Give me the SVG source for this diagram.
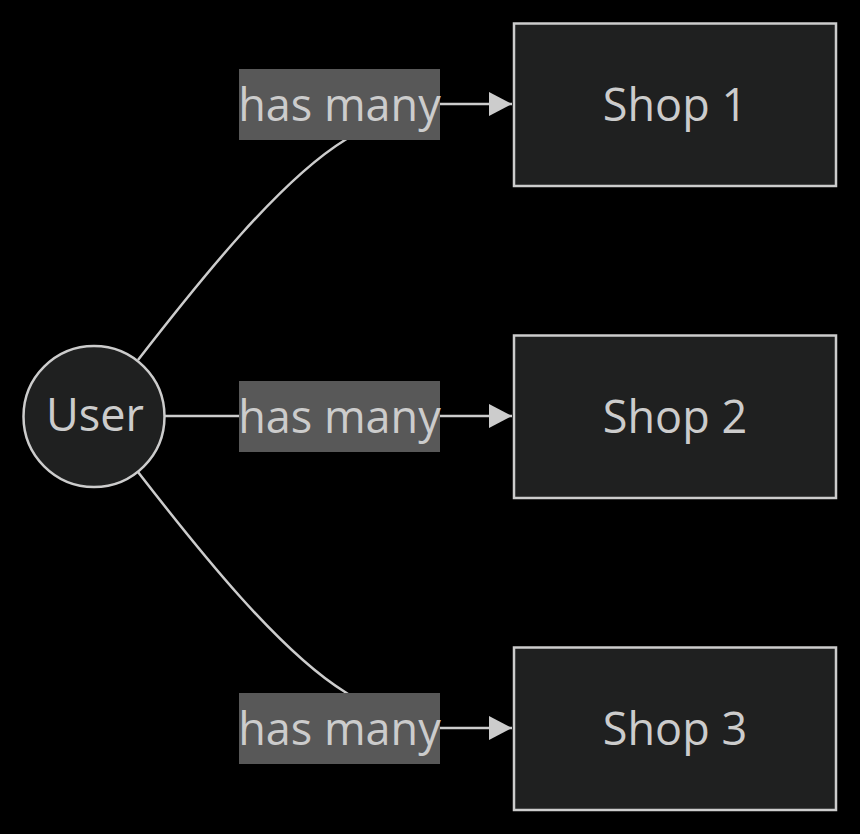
<svg xmlns="http://www.w3.org/2000/svg" width="860" height="834" viewBox="0 0 860 834">
<defs>
<style>
.node{fill:#1f2020;stroke:#cccccc;stroke-width:2.5}
.lbl{fill:#585858}
.t{font-family:"Open Sans","DejaVu Sans",sans-serif;font-size:45px;fill:#cccccc;text-anchor:middle}
.edge{fill:none;stroke:#cccccc;stroke-width:2.5}
</style>
<marker id="arr" markerWidth="24" markerHeight="24" refX="23" refY="12" orient="auto" markerUnits="userSpaceOnUse">
<path d="M0,0 L23,12 L0,24 Z" fill="#cccccc"/>
</marker>
</defs>
<rect width="860" height="834" fill="#000000"/>
<g id="connectors">
<path class="edge" d="M138,360 C200,280 280,180 345,140 C380,115 410,104 440,104 L512,104" marker-end="url(#arr)"/>
<path class="edge" d="M164,416 L512,416" marker-end="url(#arr)"/>
<path class="edge" d="M138,472 C200,552 280,652 345,692 C380,717 410,728 440,728 L512,728" marker-end="url(#arr)"/>
</g>
<g id="label1"><rect class="lbl" x="239" y="69" width="201" height="71"/><text class="t" x="339.5" y="121">has many</text></g>
<g id="label2"><rect class="lbl" x="239" y="381" width="201" height="71"/><text class="t" x="339.5" y="433">has many</text></g>
<g id="label3"><rect class="lbl" x="239" y="693" width="201" height="71"/><text class="t" x="339.5" y="745">has many</text></g>
<g id="user"><circle class="node" cx="94" cy="416.5" r="70.5"/><text class="t" x="95" y="431">User</text></g>
<g id="shop1"><rect class="node" x="514" y="23.5" width="322" height="162.5"/><text class="t" x="675" y="121">Shop 1</text></g>
<g id="shop2"><rect class="node" x="514" y="335.5" width="322" height="162.5"/><text class="t" x="675" y="433">Shop 2</text></g>
<g id="shop3"><rect class="node" x="514" y="647.5" width="322" height="162.5"/><text class="t" x="675" y="745">Shop 3</text></g>
</svg>
